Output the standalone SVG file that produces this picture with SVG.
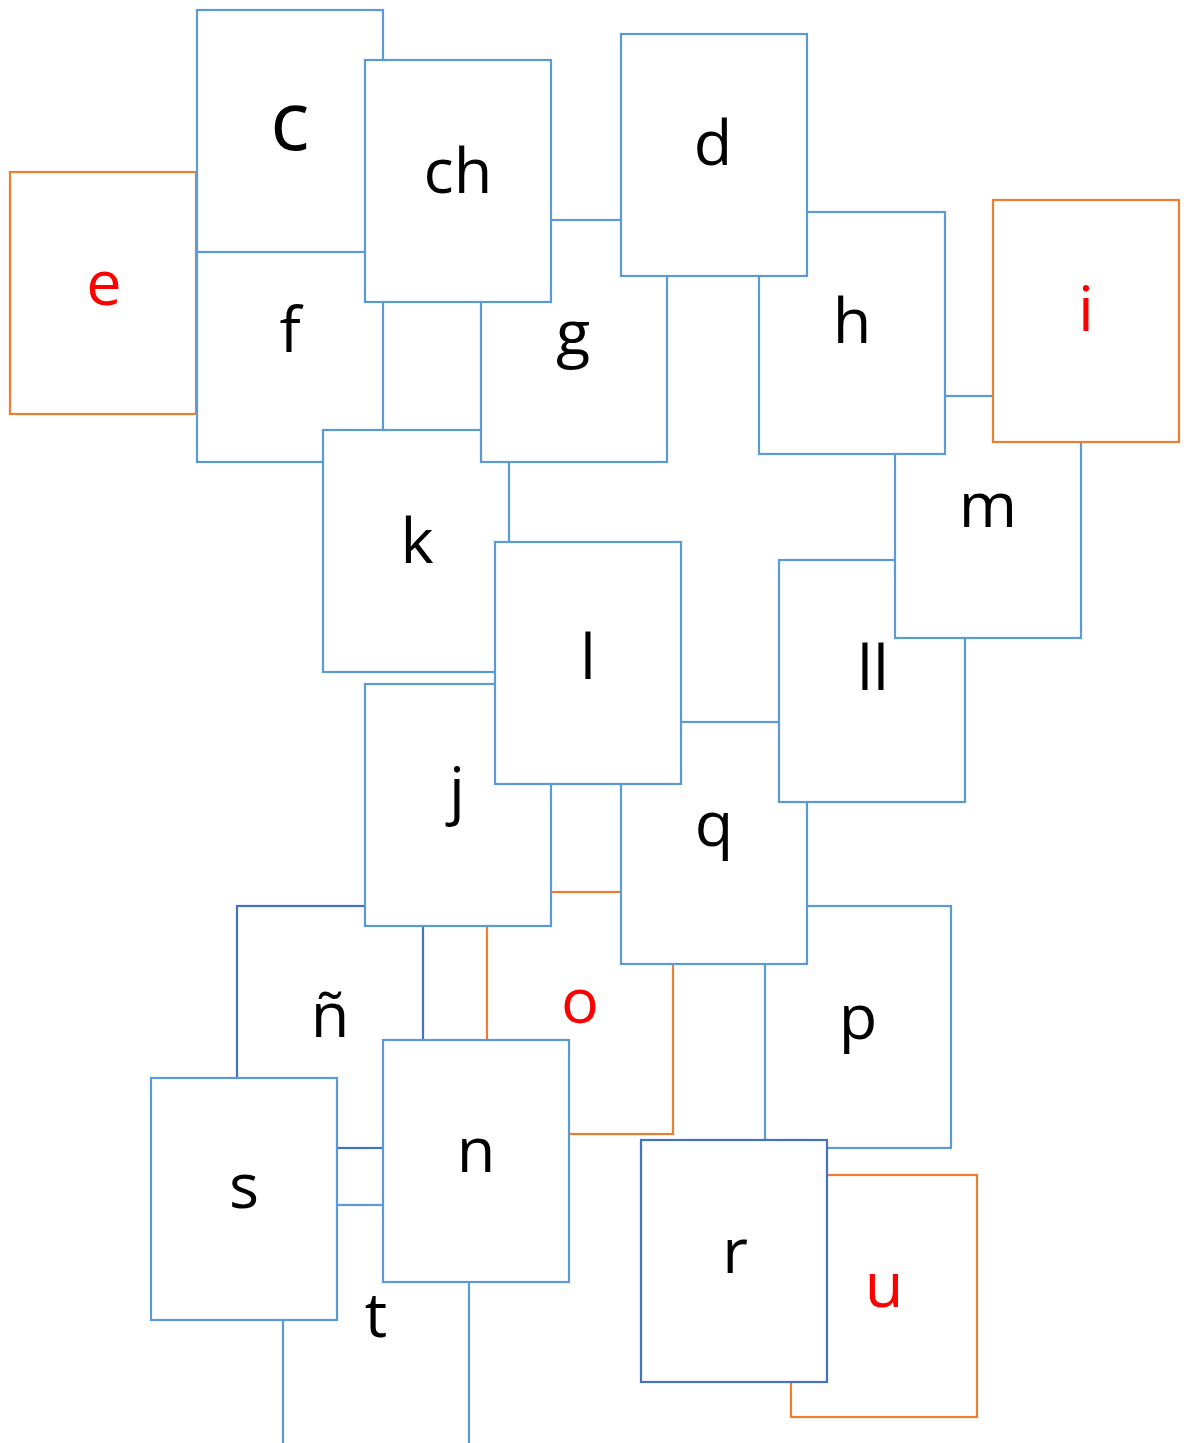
<svg xmlns="http://www.w3.org/2000/svg" width="1189" height="1443" viewBox="0 0 1189 1443">
<style>
rect{fill:#fff;stroke-width:2.2}
.b{stroke:#5B9BD5}
.d{stroke:#4472C4}
.o{stroke:#ED7D31}
text{font-family:"Open Sans","Noto Sans",sans-serif;font-size:63px;text-anchor:middle;fill:#000}
.v{fill:#FF0000}
.big{font-size:82px}
</style>
<rect width="1189" height="1443" fill="#fff" stroke="none"/>
<g id="nodes">
<g id="e"><rect class="o" x="10" y="172" width="186" height="242"/><text class="v" x="104" y="305">e</text></g>
<g id="f"><rect class="b" x="197" y="220" width="186" height="242"/><text x="290" y="352">f</text></g>
<g id="c"><rect class="b" x="197" y="10" width="186" height="242"/><text class="big" x="290" y="150">c</text></g>
<g id="k"><rect class="b" x="323" y="430" width="186" height="242"/><text x="417" y="563">k</text></g>
<g id="g"><rect class="b" x="481" y="220" width="186" height="242"/><text x="573" y="355">g</text></g>
<g id="ch"><rect class="b" x="365" y="60" width="186" height="242"/><text x="458" y="193">ch</text></g>
<g id="t"><rect class="b" x="283" y="1205" width="186" height="242"/><text x="376" y="1337">t</text></g>
<g id="ñ"><rect class="d" x="237" y="906" width="186" height="242"/><text x="330" y="1037">ñ</text></g>
<g id="o"><rect class="o" x="487" y="892" width="186" height="242"/><text class="v" x="580" y="1023">o</text></g>
<g id="p"><rect class="b" x="765" y="906" width="186" height="242"/><text x="858" y="1039">p</text></g>
<g id="u"><rect class="o" x="791" y="1175" width="186" height="242"/><text class="v" x="884" y="1307">u</text></g>
<g id="q"><rect class="b" x="621" y="722" width="186" height="242"/><text x="714" y="846">q</text></g>
<g id="ll"><rect class="b" x="779" y="560" width="186" height="242"/><text x="873" y="690">ll</text></g>
<g id="m"><rect class="b" x="895" y="396" width="186" height="242"/><text x="988" y="527">m</text></g>
<g id="h"><rect class="b" x="759" y="212" width="186" height="242"/><text x="852" y="343">h</text></g>
<g id="d"><rect class="b" x="621" y="34" width="186" height="242"/><text x="713" y="165">d</text></g>
<g id="i"><rect class="o" x="993" y="200" width="186" height="242"/><text class="v" x="1086" y="331">i</text></g>
<g id="j"><rect class="b" x="365" y="684" width="186" height="242"/><text x="457" y="812">j</text></g>
<g id="l"><rect class="b" x="495" y="542" width="186" height="242"/><text x="588" y="679">l</text></g>
<g id="n"><rect class="b" x="383" y="1040" width="186" height="242"/><text x="476" y="1172">n</text></g>
<g id="s"><rect class="b" x="151" y="1078" width="186" height="242"/><text x="244" y="1208">s</text></g>
<g id="r"><rect class="d" x="641" y="1140" width="186" height="242"/><text x="735" y="1273">r</text></g>
</g>
<g id="connectors"></g>
</svg>
